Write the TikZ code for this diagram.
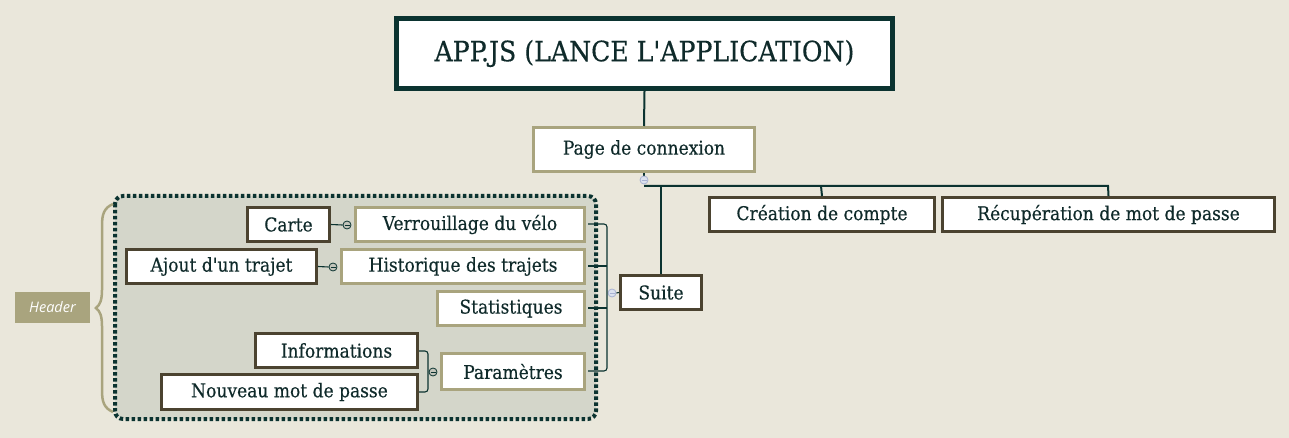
\documentclass[tikz,border=0pt]{standalone}
\usepackage{fontspec}
\setmainfont{DejaVu Serif Condensed}[Ligatures=TeXOff,FakeBold=0.35]
\newfontfamily\hdrfont{Open Sans}
\definecolor{bgc}{HTML}{EAE7DB}
\definecolor{grpc}{HTML}{D4D6CA}
\definecolor{teal}{HTML}{0B3330}
\definecolor{brn}{HTML}{4B4330}
\definecolor{tan}{HTML}{A9A47E}
\definecolor{txt}{HTML}{0F2A2A}
\definecolor{knobf}{HTML}{DCE2EF}
\definecolor{knobd}{HTML}{A8B2D2}
\begin{document}
\begin{tikzpicture}[x=1pt,y=-1pt,
  box/.style={draw, fill=white, line width=3pt, inner sep=0pt, text=txt, font=\fontsize{19}{22}\selectfont},
  darkbox/.style={box, draw=brn},
  tanbox/.style={box, draw=tan},
  conn/.style={draw=teal, line width=2pt},
  thin/.style={draw=teal, line width=1.1pt, rounded corners=3pt},
  knob/.style={circle, draw=knobd, fill=knobf, line width=0.8pt, minimum size=8pt, inner sep=0pt},
  gknob/.style={circle, draw=teal, fill=grpc!80!gray, line width=0.8pt, minimum size=8pt, inner sep=0pt}]
\useasboundingbox (0,0) rectangle (1289,438);
\fill[bgc] (0,0) rectangle (1289,438);
% group
\draw[teal, fill=grpc, line width=4pt, dash pattern=on 3.5pt off 2.5pt, rounded corners=8pt] (115,196) rectangle (596,419);
% header
\node[fill=tan, minimum width=75pt, minimum height=31pt, inner sep=0pt, text=white, font=\hdrfont\itshape\fontsize{14.5}{16}\selectfont] (hdr) at (52.5,307.5) {Header};
\draw[tan, line width=2.5pt] (113,204) .. controls (104,208) and (102,214) .. (102,226) -- (102,290) .. controls (102,300) and (100,305) .. (96,308) .. controls (100,311) and (102,316) .. (102,326) -- (102,390) .. controls (102,402) and (104,408) .. (113,412);
% main
\node[box, draw=teal, line width=5pt, minimum width=496pt, minimum height=70pt, font=\fontsize{28}{32}\selectfont] (app) at (644.5,53.5) {APP.JS (LANCE L'APPLICATION)};
\node[tanbox, minimum width=221pt, minimum height=44pt] (page) at (644,149.5) {Page de connexion};
\node[darkbox, minimum width=225pt, minimum height=34pt] (crea) at (822,214.5) {Création de compte};
\node[darkbox, minimum width=332pt, minimum height=34pt] (recup) at (1108.5,214.5) {Récupération de mot de passe};
\node[darkbox, minimum width=81pt, minimum height=34pt] (suite) at (661,292.5) {Suite};
\node[tanbox, minimum width=229pt, minimum height=34pt] (verr) at (470,224.5) {Verrouillage du vélo};
\node[tanbox, minimum width=243pt, minimum height=34pt] (hist) at (463,266.5) {Historique des trajets};
\node[tanbox, minimum width=147pt, minimum height=34pt] (stat) at (511,308.5) {Statistiques};
\node[tanbox, minimum width=143pt, minimum height=36pt] (param) at (513,371.5) {Paramètres};
\node[darkbox, minimum width=82pt, minimum height=34pt] (carte) at (288.5,224.5) {Carte};
\node[darkbox, minimum width=190pt, minimum height=34pt] (ajout) at (221.5,266.5) {Ajout d'un trajet};
\node[darkbox, minimum width=162pt, minimum height=34pt] (info) at (336.5,350.5) {Informations};
\node[darkbox, minimum width=256pt, minimum height=35pt] (nouv) at (289.5,392) {Nouveau mot de passe};
% connectors
\draw[conn] (app.south) -- (page.north);
\coordinate (pk) at (644,180);
\coordinate (hb) at (644,186);
\draw[conn] (page.south) -- (pk);
\draw[conn] (hb) -- (1108,186) -- (recup.north);
\draw[conn] (821,186) -- (crea.north);
\draw[conn] (661,186) -- (suite.north);
\node[knob] (pknob) at (pk) {};
\draw[knobd, line width=0.8pt] (641.5,180) -- (646.5,180);
% suite bracket
\node[knob] (sknob) at (612,293) {};
\draw[knobd, line width=0.8pt] (609.5,293) -- (614.5,293);
\draw[teal, line width=1.1pt] (suite.west) -- (sknob.east);
\draw[thin] (588,224) -- (607,224) -- (607,371) -- (588,371);
\draw[teal, line width=1.1pt] (588,266) -- (607,266) (588,308) -- (607,308);
% carte
\node[gknob] (ck) at (347,225) {};
\draw[teal, line width=0.8pt] (344.5,225) -- (349.5,225);
\draw[teal, line width=1.1pt] (carte.east) -- (ck.west);
\node[gknob] (hk) at (333,267) {};
\draw[teal, line width=0.8pt] (330.5,267) -- (335.5,267);
\draw[teal, line width=1.1pt] (ajout.east) -- (hk.west);
% param bracket
\node[gknob] (pmk) at (433,372) {};
\draw[teal, line width=0.8pt] (430.5,372) -- (435.5,372);
\draw[thin] (419,351) -- (428,351) -- (428,392) -- (419,392);
\end{tikzpicture}
\end{document}
